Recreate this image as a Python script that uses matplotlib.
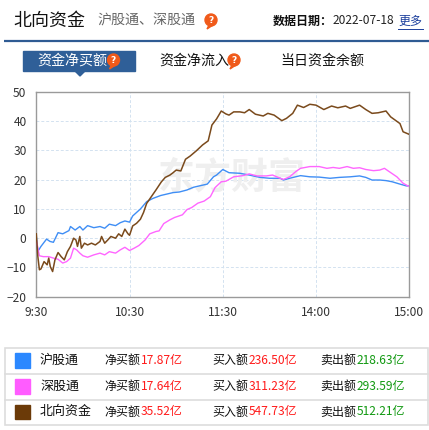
import matplotlib
matplotlib.use('Agg')
import matplotlib.pyplot as plt
import matplotlib.patches as mpatches

plt.rcParams['font.family'] = ['Noto Sans CJK SC', 'DejaVu Sans']

# minutes since 9:30 (lunch break removed), net buy in 亿
hgt_min = [0, 1, 3, 6.6, 8.8, 11, 14, 17, 21, 22, 25, 28, 30, 33, 37, 41, 44, 47, 51, 54,
           57, 60, 62, 67, 71, 75, 80, 84, 88, 92, 97, 101, 105, 110, 114, 116, 120, 124, 131, 137,
           144, 150, 157, 159, 163, 170, 176, 182, 189, 195, 202, 208, 212, 216, 221, 225, 229, 234, 238, 240]
hgt_val = [0.5, -4.5, -2.8, -0.3, -1.1, -1.4, 1.9, 1.5, 2.6, 4, 2.8, 4, 2.8, 4.3, 3.6, 4, 3.4, 4.8, 4.3, 5.3,
           5.9, 5.5, 7.6, 10, 12.5, 13.6, 14.6, 15.1, 15.6, 15.8, 16.5, 17.4, 17.9, 18.5, 21, 21.6, 23.5, 22.4, 22.2, 21.6,
           20.8, 20.5, 20.5, 19.9, 20.5, 21.4, 21, 20.9, 20.5, 20.8, 21, 21.3, 20.8, 19.9, 19.9, 19.7, 19.3, 18.5, 17.9, 17.87]

sgt_min = [0, 1, 2, 4.5, 8, 11, 14, 17, 19.5, 22, 24, 26, 28, 30, 33, 37, 41, 44, 47, 51,
           54, 57, 60, 63, 66, 70, 73, 77, 79, 82, 86, 89, 94, 97, 100, 104, 108, 112, 115, 119,
           122, 127, 133, 137, 142, 148, 152, 157, 159, 163, 167, 170, 176, 182, 187, 191, 195, 200, 204, 208,
           212, 217, 221, 224, 227, 232, 236, 240]
sgt_val = [-0.5, -3.4, -6, -6.3, -6.3, -6.8, -7.2, -8.5, -8, -6.8, -3.4, -4, -5.1, -6, -6.5, -5.7, -5.1, -5.7, -4.6, -5.1,
           -4, -3.1, -4.2, -3.4, -2.5, -0.6, 1.5, 2.3, 2.5, 5, 6.3, 7.1, 8, 9.8, 10.5, 12, 12.7, 14.2, 17.3, 19.3,
           19.5, 21, 21.4, 22, 21.3, 21.3, 21.6, 20.5, 20.1, 21, 22.8, 23.9, 24.5, 24.5, 23.9, 24.2, 23.9, 24.5, 23.9, 24.1,
           23.5, 23.1, 23.3, 23.9, 22.8, 21, 18.8, 17.64]

bx_min = [0, 1, 2, 3, 5, 7, 8, 9, 10.5, 12, 14, 16, 18, 20, 22, 24, 25.5, 26.5, 28, 29,
          31, 33, 35.5, 38, 41, 42, 44, 46, 48, 51, 53, 55, 57, 59, 60, 62, 64.5, 67, 69, 71,
          74, 77, 80.5, 83, 86, 88, 90, 93, 96, 99, 103, 107, 110.6, 113, 116, 119, 122, 124, 127, 131,
          134, 137, 141, 146, 149, 153, 158, 161, 165, 168, 172, 176, 180, 185, 190, 194, 199, 202, 208, 212,
          216, 220, 225, 228, 234, 236, 240]
bx_val = [1.5, -6.3, -10.8, -10.5, -8, -9.1, -6.8, -9.7, -11.4, -7.4, -4.9, -6.3, -7.4, -4.6, -2.8, 0, -0.6, -2.8, 0.6, -3.4,
          -1.7, -2.3, -1.7, -2.3, -1.1, 0.6, -1.7, -0.6, 0.6, 0, 1.5, 0.6, 3.1, 1.5, 1.0, 4.2, 5.1, 6.5, 8.8, 11.9,
          14.2, 16.5, 19.3, 20.8, 21.6, 22.4, 23.3, 23.0, 27, 28.1, 29.9, 31.9, 33.3, 38.7, 40.8, 43.5, 42.5, 42.1, 43.2, 43.2,
          42.9, 44, 42.4, 41.8, 42.7, 42.1, 40.2, 41, 42.7, 45.5, 44.7, 45.8, 45.5, 44, 45.2, 44.6, 45.2, 44.4, 45.5, 44,
          42.7, 42.9, 43.5, 41.5, 39.2, 36.4, 35.5]

series_names = ['沪股通', '深股通', '北向资金']
line_colors = ['#3f8ef5', '#ff66ff', '#7a4a1c']
box_colors = ['#2b88ff', '#ff5cff', '#6b3a08']
net_buy = ['17.87亿', '17.64亿', '35.52亿']
buy_in = ['236.50亿', '311.23亿', '547.73亿']
sell_out = ['218.63亿', '293.59亿', '512.21亿']

x_ticks = [0, 60, 120, 180, 240]
x_labels = ['9:30', '10:30', '11:30', '14:00', '15:00']
y_ticks = [-20, -10, 0, 10, 20, 30, 40, 50]

W, H = 429, 430
PT = 0.72  # px -> pt at 100 dpi


def question_icon(ax, x, y, r=6):
    ax.add_patch(mpatches.Circle((x, y), r, color='#f05a1a', zorder=3))
    ax.add_patch(mpatches.Polygon([[x - 2, y + r - 1], [x - 4, y + r + 3], [x + 2, y + r - 1]],
                                  closed=True, color='#f05a1a', zorder=3))
    ax.text(x, y + 0.5, '?', color='white', fontsize=9 * PT, fontweight='bold',
            ha='center', va='center', family='DejaVu Sans', zorder=4)


fig = plt.figure(figsize=(W / 100, H / 100), dpi=100)

# background canvas in pixel coordinates
bg = fig.add_axes([0, 0, 1, 1])
bg.set_xlim(0, W)
bg.set_ylim(H, 0)
bg.axis('off')

# header
bg.text(13, 21, '北向资金', fontsize=18 * PT, color='#111', va='center')
bg.text(97, 21, '沪股通、深股通', fontsize=14 * PT, color='#666', va='center')
question_icon(bg, 211, 20)
bg.text(273, 21, '数据日期：', fontsize=12 * PT, color='#111', va='center', fontweight='bold')
bg.text(333, 21, '2022-07-18', fontsize=12 * PT, color='#222', va='center')
bg.text(398, 21, '更多', fontsize=12 * PT, color='#1b3e9c', va='center')
bg.plot([398, 423], [29, 29], color='#1b3e9c', lw=0.7)
bg.plot([4, W], [41, 41], color='#2f5b93', lw=1.6, solid_capstyle='butt')

# tabs
bg.add_patch(mpatches.Rectangle((23, 51), 112, 20, color='#2f5f98'))
bg.add_patch(mpatches.Polygon([[75, 71], [85, 71], [80, 76]], closed=True, color='#2f5f98'))
bg.text(37, 60.5, '资金净买额', fontsize=14 * PT, color='white', va='center')
question_icon(bg, 113.5, 60)
bg.text(159, 60.5, '资金净流入', fontsize=14 * PT, color='#111', va='center')
question_icon(bg, 234, 60)
bg.text(280, 60.5, '当日资金余额', fontsize=14 * PT, color='#111', va='center')

# chart
left, right, top, bottom = 36.3, 409.3, 92, 296.7
ax = fig.add_axes([left / W, 1 - bottom / H, (right - left) / W, (bottom - top) / H])
ax.plot(hgt_min, hgt_val, color=line_colors[0], lw=1.0, zorder=3)
ax.plot(sgt_min, sgt_val, color=line_colors[1], lw=1.0, zorder=3)
ax.plot(bx_min, bx_val, color=line_colors[2], lw=1.1, zorder=4)
ax.set_xlim(0, 240)
ax.set_ylim(-20, 50)
ax.set_xticks(x_ticks)
ax.set_xticklabels(x_labels)
ax.set_yticks(y_ticks)
ax.tick_params(length=0, labelsize=12 * PT, labelcolor='#333', pad=7)
ax.grid(True, color='#d3e2f0', lw=0.7, ls=(0, (3, 2)))
ax.set_axisbelow(True)
for sp in ax.spines.values():
    sp.set_color('#9a9a9a')
    sp.set_linewidth(1.0)
ax.text(232, 178, '东方财富', transform=bg.transData, fontsize=37 * PT, color='#efefef',
        fontweight='bold', ha='center', va='center', zorder=1)

# legend table
bg.add_patch(mpatches.Rectangle((4.5, 347.5), 423, 77.5, fill=False, ec='#dddddd', lw=1.2))
for yl in [373.5, 399.5]:
    bg.plot([4.5, 427.5], [yl, yl], color='#dddddd', lw=1.2)
row_y = [360.5, 386.5, 412]
for i, name in enumerate(series_names):
    y = row_y[i]
    bg.add_patch(mpatches.Rectangle((15, y - 7.3), 15, 14.6, color=box_colors[i]))
    bg.text(40, y, name, fontsize=13 * PT, color='#111', va='center')
    bg.text(104.5, y, '净买额', fontsize=12 * PT, color='#111', va='center')
    bg.text(140.7, y, net_buy[i], fontsize=12 * PT, color='#ff1a1a', va='center')
    bg.text(212.7, y, '买入额', fontsize=12 * PT, color='#111', va='center')
    bg.text(248.3, y, buy_in[i], fontsize=12 * PT, color='#ff1a1a', va='center')
    bg.text(320.7, y, '卖出额', fontsize=12 * PT, color='#111', va='center')
    bg.text(356.7, y, sell_out[i], fontsize=12 * PT, color='#119911', va='center')

fig.savefig('out.png', dpi=100)
